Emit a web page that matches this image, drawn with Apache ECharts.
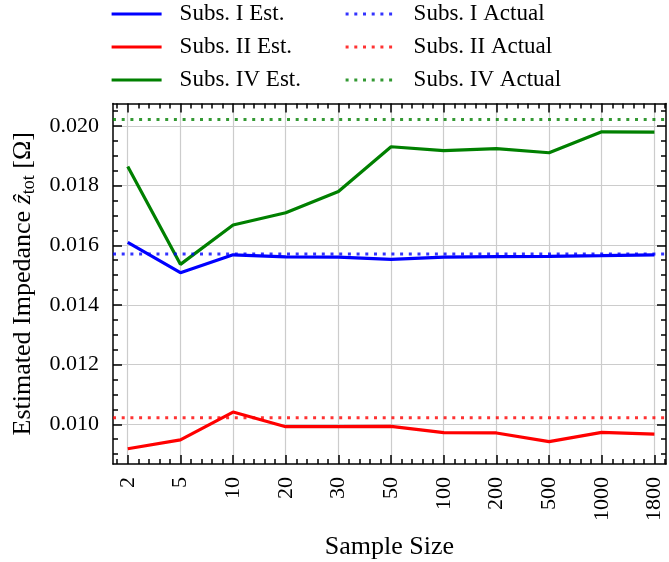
<!DOCTYPE html>
<html><head><meta charset="utf-8">
<script src="https://cdn.jsdelivr.net/npm/echarts@6/dist/echarts.min.js"></script>
<style>html,body{margin:0;padding:0;background:#fff}#c{width:669px;height:562px}</style>
</head><body><div id="c"></div>
<script>
// ---- data ----
const sampleSizes = ['2','5','10','20','30','50','100','200','500','1000','1800'];
const subsIEst  = [0.01610,0.01508,0.01568,0.01561,0.01560,0.01553,0.01560,0.01562,0.01563,0.01565,0.01568];
const subsIIEst = [0.00918,0.00948,0.01041,0.00992,0.00992,0.00993,0.00972,0.00971,0.00942,0.00973,0.00967];
const subsIVEst = [0.01864,0.01536,0.01668,0.01709,0.01780,0.01930,0.01917,0.01924,0.01910,0.01980,0.01979];
const subsIActual  = 0.01571;
const subsIIActual = 0.01022;
const subsIVActual = 0.02021;
const yTickValues = [0.010,0.012,0.014,0.016,0.018,0.020];
const yMinorValues = [0.0090,0.0095,0.0105,0.0110,0.0115,0.0125,0.0130,0.0135,0.0145,0.0150,0.0155,0.0165,0.0170,0.0175,0.0185,0.0190,0.0195,0.0205];

// ---- layout / style ----
const XMIN = -0.28, XMAX = 10.22;
const YMIN = 0.00867, YMAX = 0.02075;
const FONT = 'Liberation Serif';
const xIdx = sampleSizes.map((_, i) => i);
const xMinor = [];
for (let i = -1; i <= 10; i++) for (let k = 1; k <= 4; k++) { const v = +(i + k * 0.2).toFixed(2); if (v > XMIN && v < XMAX) xMinor.push(v); }

const spine = { show: true, onZero: false, lineStyle: { color: '#000', width: 1.5 } };
const noLine = { show: false, onZero: false };
function tick(vals, len) { return { show: true, inside: true, length: len, customValues: vals, lineStyle: { color: '#000', width: 1.5 } }; }

function xAx(pos, vals, len, main, line) {
  return {
    type: 'value', min: XMIN, max: XMAX, position: pos,
    axisLine: line ? spine : noLine,
    axisTick: tick(vals, len),
    axisLabel: main ? { show: true, customValues: xIdx, formatter: v => sampleSizes[Math.round(v)], rotate: 90, margin: 13, fontSize: 22, fontFamily: FONT, color: '#000' } : { show: false },
    splitLine: main ? { show: true, lineStyle: { color: '#cccccc', width: 1.2 } } : { show: false },
    name: main ? 'Sample Size' : '', nameLocation: 'middle', nameGap: 70,
    nameTextStyle: { fontSize: 26, fontFamily: FONT, color: '#000' }
  };
}
function yAx(pos, vals, len, main, line) {
  return {
    type: 'value', min: YMIN, max: YMAX, position: pos,
    axisLine: line ? spine : noLine,
    axisTick: tick(vals, len),
    axisLabel: main ? { show: true, customValues: yTickValues, formatter: v => v.toFixed(3), margin: 14, fontSize: 22, fontFamily: FONT, color: '#000' } : { show: false },
    splitLine: main ? { show: true, lineStyle: { color: '#cccccc', width: 1.2 } } : { show: false },
    name: main ? 'Estimated Impedance {z|ẑ}{sub|tot} [Ω]' : '', nameLocation: 'middle', nameGap: 75,
    nameTextStyle: { fontSize: 26, fontFamily: FONT, color: '#000', lineHeight: 30,
      rich: { z: { fontSize: 26, fontFamily: FONT, fontStyle: 'italic', color: '#000', lineHeight: 30 },
              sub: { fontSize: 18, fontFamily: FONT, color: '#000', lineHeight: 16, verticalAlign: 'bottom' } } }
  };
}

function est(name, color, data) {
  return { name, type: 'line', xAxisIndex: 0, yAxisIndex: 0, data: data.map((v, i) => [i, v]),
    symbol: 'none', lineStyle: { color, width: 3.2 }, itemStyle: { color }, z: 3 };
}
function act(name, color, v) {
  return { name, type: 'line', xAxisIndex: 0, yAxisIndex: 0, data: [[XMIN, v], [XMAX, v]],
    symbol: 'none', lineStyle: { color, width: 3, type: [3, 5.7], opacity: 0.8 }, itemStyle: { color }, z: 4 };
}

const legendText = { fontSize: 23, fontFamily: FONT, color: '#000', lineHeight: 23, padding: [0, 0, 0, 13] };
const legendCommon = { orient: 'vertical', top: 2.5, padding: 0, itemWidth: 50, itemHeight: 14, itemGap: 10,
  textStyle: legendText, itemStyle: { opacity: 0 }, lineStyle: { width: 3.2 } };
const option = {
  animation: false,
  backgroundColor: '#fff',
  grid: { left: 113, right: 3, top: 103.5, bottom: 98, containLabel: false, outerBoundsMode: 'none' },
  legend: [
    Object.assign({ left: 110, data: ['Subs. I Est.', 'Subs. II Est.', 'Subs. IV Est.'] }, legendCommon),
    Object.assign({ left: 344, data: ['Subs. I Actual', 'Subs. II Actual', 'Subs. IV Actual'] }, legendCommon)
  ],
  xAxis: [
    xAx('bottom', xIdx, 9, true, true),
    xAx('bottom', xMinor, 5, false, false),
    xAx('top', xIdx, 9, false, true),
    xAx('top', xMinor, 5, false, false)
  ],
  yAxis: [
    yAx('left', yTickValues, 9, true, true),
    yAx('left', yMinorValues, 5, false, false),
    yAx('right', yTickValues, 9, false, true),
    yAx('right', yMinorValues, 5, false, false)
  ],
  series: [
    est('Subs. I Est.', '#0000ff', subsIEst),
    est('Subs. II Est.', '#ff0000', subsIIEst),
    est('Subs. IV Est.', '#008000', subsIVEst),
    act('Subs. I Actual', '#0000ff', subsIActual),
    act('Subs. II Actual', '#ff0000', subsIIActual),
    act('Subs. IV Actual', '#008000', subsIVActual)
  ]
};
const chart = echarts.init(document.getElementById('c'), null, { renderer: 'canvas' });
chart.setOption(option);
</script></body></html>
